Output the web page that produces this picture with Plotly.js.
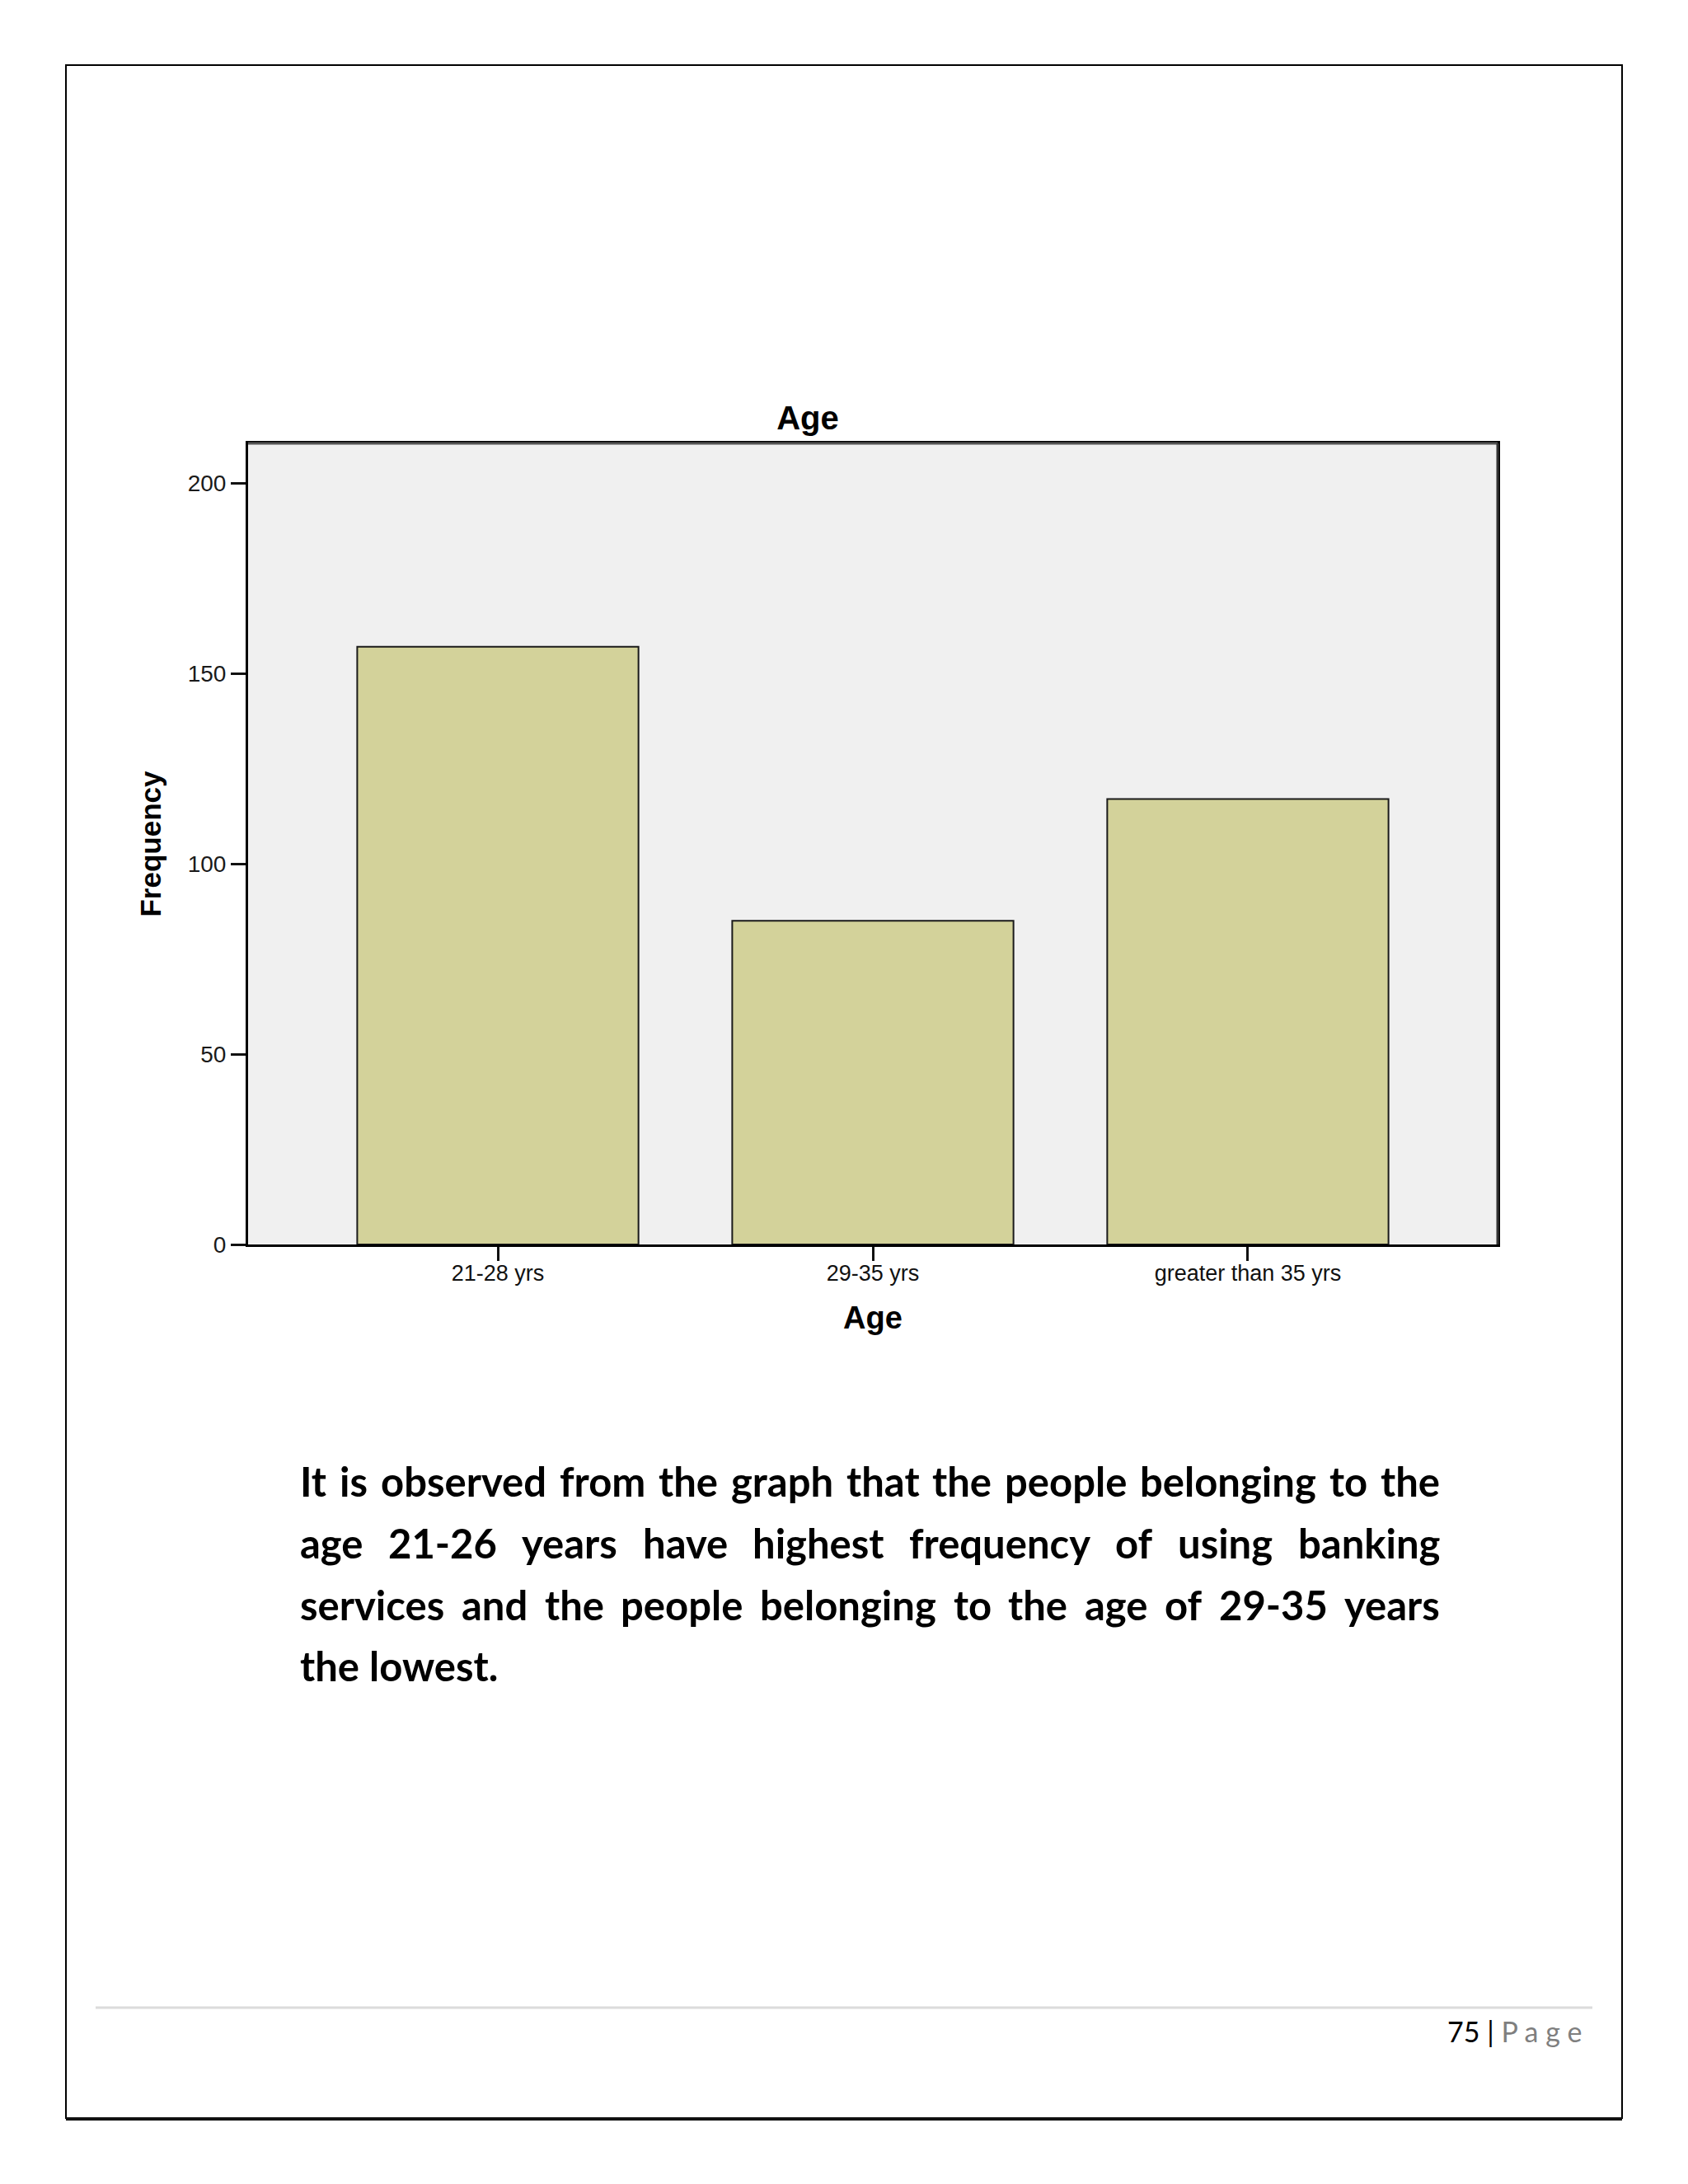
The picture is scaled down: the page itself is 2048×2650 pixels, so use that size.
<!DOCTYPE html>
<html>
<head>
<meta charset="utf-8">
<script src="https://cdn.plot.ly/plotly-3.0.1.min.js"></script>
<style>
  html, body { margin: 0; padding: 0; background: #fff; }
  #page { width: 2048px; height: 2650px; }
</style>
</head>
<body>
<div id="page"></div>
<script>
// chart data
var ageGroups = ["21-28 yrs", "29-35 yrs", "greater than 35 yrs"];
var frequency = [157, 85, 117];
var freqTicks = [0, 50, 100, 150, 200];

// page text
var noteLines = [
  "It is observed from the graph that the people belonging to the",
  "age 21-26 years have highest frequency of using banking",
  "services and the people belonging to the age of 29-35 years",
  "the lowest."
];
var pageNumber = "75";

// plot box in page pixels, used to place page decorations in paper units
var L = 301, R = 1817, T = 538, B = 1510;
function px(x){ return (x - L) / (R - L); }
function py(y){ return (B - y) / (B - T); }

var ctx = document.createElement("canvas").getContext("2d");
function textWidth(s, font){
  ctx.font = font;
  return ctx.measureText(s).width;
}

var noteSize = 49;
var noteFont = "bold " + noteSize + "px Lato";
var noteLeft = 364, noteRight = 1747;
var baselines = [1813, 1888, 1963, 2037];

var annotations = [];

// justified paragraph, word by word
noteLines.forEach(function(line, i){
  var words = line.split(" ");
  var widths = words.map(function(w){ return textWidth(w, noteFont); });
  var total = widths.reduce(function(a, b){ return a + b; }, 0);
  var last = i == noteLines.length - 1;
  var gap = last ? textWidth(" ", noteFont) : (noteRight - noteLeft - total) / (words.length - 1);
  var x = noteLeft;
  words.forEach(function(w, j){
    annotations.push({
      text: w,
      xref: "paper", yref: "paper",
      x: px(x - 2), y: py(baselines[i] - 0.33 * noteSize),
      xanchor: "left", yanchor: "middle",
      showarrow: false,
      font: {family: "Lato", size: noteSize, color: "#000", weight: "bold"}
    });
    x += widths[j] + gap;
  });
});

// footer
annotations.push({
  text: pageNumber + " | <span style='color:#7f7f7f'>P a g e</span>",
  xref: "paper", yref: "paper",
  x: px(1922), y: py(2464),
  xanchor: "right", yanchor: "middle",
  showarrow: false,
  font: {family: "Lato", size: 34, color: "#000"}
});

var shapes = [
  // page frame
  {type: "rect", xref: "paper", yref: "paper", x0: px(80), x1: px(1968), y0: py(79), y1: py(2570),
   line: {color: "#000", width: 2}, layer: "below"},
  {type: "line", xref: "paper", yref: "paper", x0: px(80), x1: px(1968), y0: py(2571), y1: py(2571),
   line: {color: "#111", width: 4}},
  // footer rule
  {type: "line", xref: "paper", yref: "paper", x0: px(116), x1: px(1932), y0: py(2436), y1: py(2436),
   line: {color: "#dcdcdc", width: 3}},
  // lighter top and right edges of the plot frame
  {type: "line", xref: "paper", yref: "paper", x0: 0, x1: 1, y0: 1, y1: 1,
   line: {color: "#555", width: 3}},
  {type: "line", xref: "paper", yref: "paper", x0: 1, x1: 1, y0: 0, y1: 1,
   line: {color: "#333", width: 3}}
];

var bars = {
  type: "bar",
  x: ageGroups,
  y: frequency,
  width: 0.75,
  marker: {color: "#d3d29a", line: {color: "#1a1a1a", width: 2}},
  hoverinfo: "x+y",
  showlegend: false
};

var layout = {
  width: 2048,
  height: 2650,
  margin: {l: L, r: 2048 - R, t: T, b: 2650 - B},
  paper_bgcolor: "#fff",
  plot_bgcolor: "#f0f0f0",
  font: {family: "Liberation Sans, Arial, sans-serif", color: "#111"},
  title: {
    text: "Age",
    font: {family: "Liberation Sans, Arial, sans-serif", size: 40, color: "#000", weight: "bold"},
    xref: "paper", x: px(980), xanchor: "center",
    yref: "container", y: 1 - 507 / 2650, yanchor: "middle"
  },
  xaxis: {
    type: "category",
    range: [-0.666, 2.666],
    showgrid: false, zeroline: false,
    showline: true, linecolor: "#000", linewidth: 3, mirror: true,
    ticks: "outside", ticklen: 17, tickwidth: 3, tickcolor: "#111",
    ticklabelstandoff: -8,
    tickfont: {size: 27, color: "#111"},
    title: {text: "Age", standoff: 26,
            font: {family: "Liberation Sans, Arial, sans-serif", size: 38, color: "#000", weight: "bold"}}
  },
  yaxis: {
    range: [0, 210.4],
    tickvals: freqTicks,
    showgrid: false, zeroline: false,
    showline: true, linecolor: "#000", linewidth: 3, mirror: true,
    ticks: "outside", ticklen: 18, tickwidth: 3, tickcolor: "#111",
    tickfont: {size: 28, color: "#1a1a1a"},
    title: {text: "Frequency", standoff: 22,
            font: {family: "Liberation Sans, Arial, sans-serif", size: 35, color: "#000", weight: "bold"}}
  },
  bargap: 0.25,
  shapes: shapes,
  annotations: annotations
};

Plotly.newPlot("page", [bars], layout, {displayModeBar: false, staticPlot: true});
</script>
</body>
</html>
